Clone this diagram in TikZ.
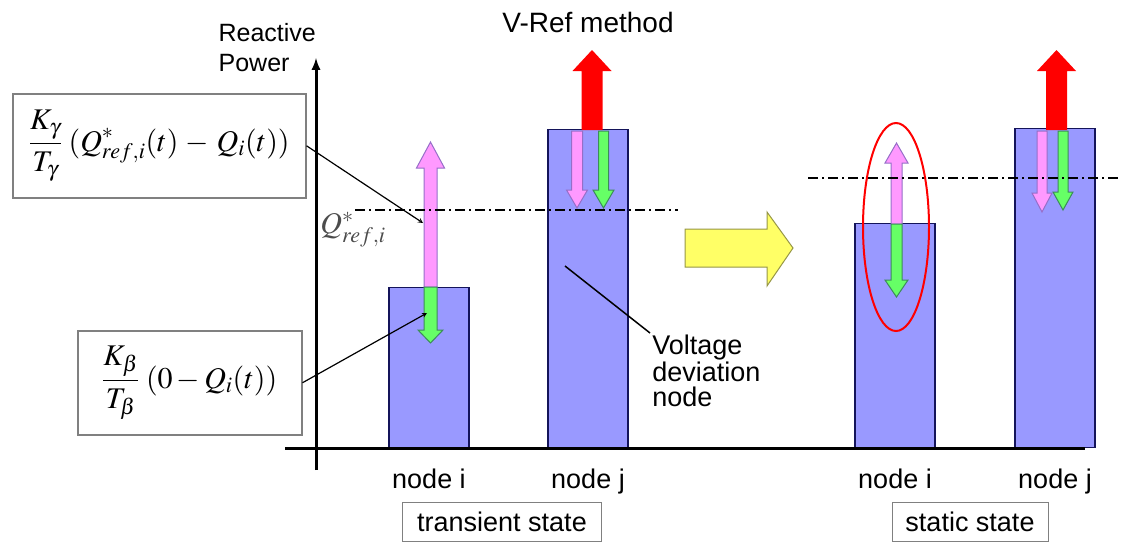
\documentclass[tikz,border=0pt]{standalone}
\usepackage{mathptmx}
\usepackage[no-math]{fontspec}
\setmainfont{Liberation Sans}
\usepackage{tikz}
\usetikzlibrary{arrows,calc,positioning}

\definecolor{barblue}{RGB}{153,153,255}
\definecolor{barline}{RGB}{20,20,90}
\definecolor{pinkfill}{RGB}{255,153,255}
\definecolor{pinkline}{RGB}{150,110,200}
\definecolor{greenfill}{RGB}{102,255,102}
\definecolor{greenline}{RGB}{60,140,90}
\definecolor{yellowfill}{RGB}{255,255,102}
\definecolor{yellowline}{RGB}{150,150,70}

% style, x, y start, y head base, y tip, shaft half width, head half width
\newcommand{\blockarrow}[7]{%
  \draw[#1] (#2-#6,#3) -- (#2-#6,#4) -- (#2-#7,#4) -- (#2,#5)
    -- (#2+#7,#4) -- (#2+#6,#4) -- (#2+#6,#3) -- cycle;}

\begin{document}
\begin{tikzpicture}[x=1pt,y=-1pt,semithick,>=stealth,font=\fontsize{27}{25}\selectfont]
  \tikzstyle{bar}=[draw=barline, fill=barblue, line width=1.5pt, minimum width=80, anchor=south, inner sep=0pt]
  \tikzstyle{formula}=[draw=black!50, line width=1.5pt, fill=white, anchor=north west, inner sep=0pt, font=\fontsize{30}{34}\selectfont]
  \tikzstyle{statebox}=[draw=black!50, line width=1pt, minimum height=39]
  \tikzstyle{lbl}=[anchor=base]
  \tikzstyle{pinkarr}=[fill=pinkfill, draw=pinkline, line width=1pt]
  \tikzstyle{greenarr}=[fill=greenfill, draw=greenline, line width=1pt]
  \tikzstyle{redarr}=[fill=red, draw=none]
  \tikzstyle{ref}=[line width=1.5pt, dash pattern=on 10pt off 4pt on 2pt off 4pt]
  \useasboundingbox (0,0) rectangle (1122,546);

  % bars
  \node[bar, minimum height=160] (Ti) at (429,448) {};
  \node[bar, minimum height=318] (Tj) at (588,448) {};
  \node[bar, minimum height=224] (Si) at (895,448) {};
  \node[bar, minimum height=319] (Sj) at (1055,448) {};

  % axes
  \draw[line width=3pt] (285,448) -- (1085,448);
  \draw[line width=3pt, -latex] (316,470) -- (316,58);
  \node[anchor=west, align=left, font=\fontsize{25}{30}\selectfont] (ylab) at (215,48) {Reactive\\Power};

  % V-Ref arrows
  \blockarrow{redarr}{592}{130}{71}{50}{10.5}{19.5}
  \blockarrow{redarr}{1056.5}{130}{71}{50}{10.5}{19.5}
  \node[font=\fontsize{28}{32}\selectfont] (vref) at (588,22) {V-Ref method};

  % transient state
  \blockarrow{pinkarr}{430.5}{287}{168}{142}{6.5}{14}
  \blockarrow{greenarr}{430.5}{287}{330}{343}{6.5}{12.5}
  \blockarrow{pinkarr}{577}{131}{190}{208}{5.5}{10.5}
  \blockarrow{greenarr}{603.5}{131}{190}{208}{5}{10.5}
  \draw[ref] (355,210) -- (678,210);

  % static state
  \blockarrow{pinkarr}{896.5}{224}{163}{143}{5.5}{11.5}
  \blockarrow{greenarr}{896.5}{224}{280}{297}{5.5}{11.5}
  \blockarrow{pinkarr}{1042}{131}{193}{212}{5}{10}
  \blockarrow{greenarr}{1063}{131}{192}{210}{5}{10}
  \draw[ref] (808,178) -- (1120,178);
  \draw[red, line width=2pt] (896,227) ellipse [x radius=33, y radius=104];

  % yellow arrow
  \draw[fill=yellowfill, draw=yellowline, line width=1pt] (685,229) -- (767,229) -- (767,212)
    -- (793,248) -- (767,286) -- (767,267) -- (685,267) -- cycle;

  % formulas
  \node[formula, minimum width=293, minimum height=104] (Fg) at (12,93)
    {$\displaystyle\frac{K_\gamma}{T_\gamma}\;(Q^*_{ref,i}(t)\,-\,Q_i(t))$};
  \node[formula, minimum width=224, minimum height=104] (Fb) at (77,330)
    {$\displaystyle\frac{K_\beta}{T_\beta}\;(0-Q_i(t))$};
  \node[text=black!70, font=\fontsize{30}{34}\selectfont] (qref) at (353,230) {$Q^*_{ref,i}$};
  \coordinate (pTi) at (423,223);
  \coordinate (gTi) at (427,313);
  \draw[->, line width=1.2pt] (Fg.east) -- (pTi);
  \draw[->, line width=1.2pt] (Fb.east) -- (gTi);

  % voltage deviation
  \node[anchor=north west, align=left, inner sep=2pt] (vdev) at (650,333) {Voltage\\deviation\\node};
  \coordinate (vd) at (565,266);
  \draw[line width=1.5pt] (vdev.north west) -- (vd);

  % labels
  \node[lbl] (nTi) at (Ti |- 0,488) {node i};
  \node[lbl] (nTj) at (Tj |- 0,488) {node j};
  \node[lbl] (nSi) at (Si |- 0,488) {node i};
  \node[lbl] (nSj) at (Sj |- 0,488) {node j};
  \node[statebox, minimum width=199] (trans) at (502,522) {transient state};
  \node[statebox, minimum width=156] (stat) at (970,522) {static state};
\end{tikzpicture}
\end{document}
